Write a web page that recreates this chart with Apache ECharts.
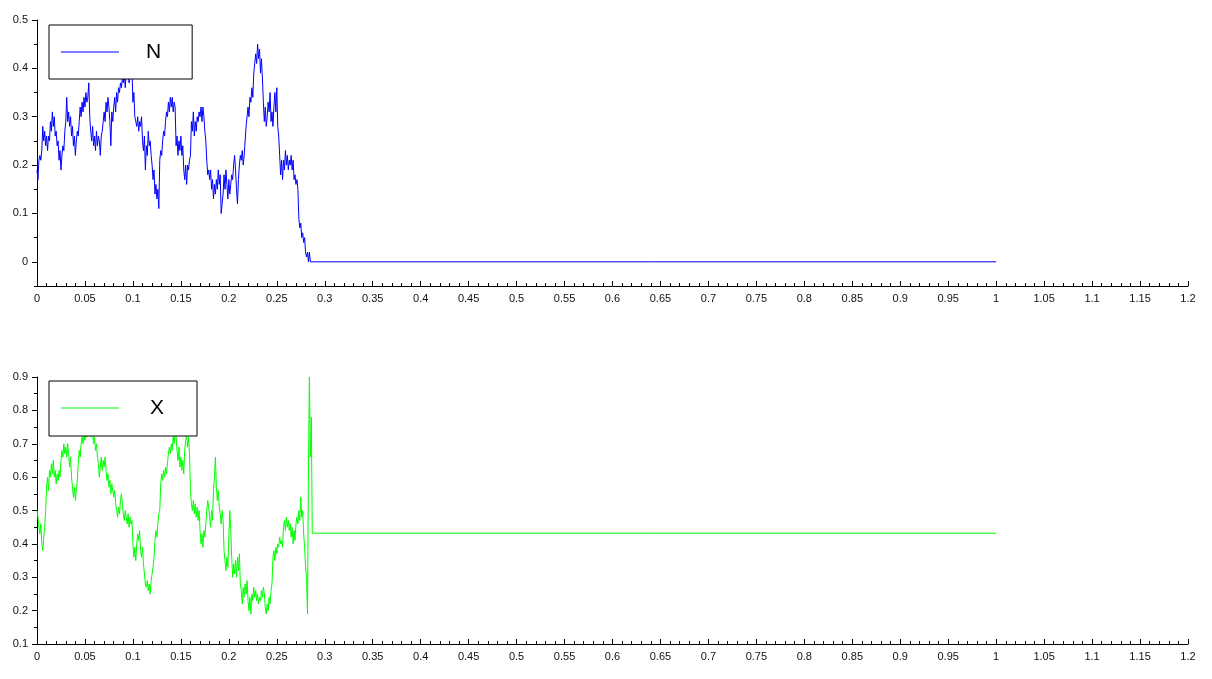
<!DOCTYPE html>
<html>
<head>
<meta charset="utf-8">
<script src="https://cdn.jsdelivr.net/npm/echarts@6/dist/echarts.min.js"></script>
<style>
html,body{margin:0;padding:0;background:#fff;}
#chart{width:1212px;height:679px;}
</style>
</head>
<body>
<div id="chart"></div>
<script>
// sampling of the recorded paths
const sampleStep = 0.001;
const endTime = 1.0;

// N path (top panel), one value per sample
const nValues = [
0.19,0.17,0.21,0.22,0.21,0.23,0.28,0.25,0.27,0.24,
0.26,0.23,0.26,0.25,0.29,0.27,0.31,0.28,0.30,0.26,
0.27,0.24,0.25,0.21,0.23,0.19,0.22,0.24,0.23,0.27,
0.29,0.34,0.29,0.31,0.28,0.30,0.26,0.28,0.24,0.26,
0.22,0.25,0.27,0.26,0.29,0.32,0.30,0.33,0.31,0.34,
0.32,0.35,0.33,0.34,0.37,0.30,0.27,0.25,0.28,0.24,
0.26,0.23,0.27,0.24,0.26,0.25,0.22,0.26,0.27,0.29,
0.31,0.29,0.33,0.31,0.34,0.32,0.29,0.24,0.31,0.29,
0.32,0.34,0.31,0.35,0.33,0.36,0.35,0.37,0.36,0.38,
0.37,0.39,0.36,0.39,0.38,0.40,0.37,0.39,0.38,0.40,
0.33,0.35,0.30,0.29,0.28,0.30,0.27,0.29,0.28,0.30,
0.25,0.23,0.26,0.19,0.24,0.22,0.27,0.24,0.25,0.22,
0.20,0.17,0.19,0.14,0.16,0.13,0.15,0.11,0.21,0.23,
0.22,0.25,0.27,0.26,0.29,0.31,0.30,0.33,0.31,0.34,
0.32,0.34,0.31,0.33,0.32,0.24,0.26,0.22,0.25,0.23,
0.26,0.22,0.24,0.19,0.17,0.20,0.16,0.20,0.19,0.21,
0.22,0.29,0.27,0.31,0.26,0.29,0.27,0.30,0.29,0.31,
0.30,0.32,0.29,0.32,0.30,0.27,0.25,0.21,0.18,0.19,
0.17,0.19,0.15,0.17,0.13,0.16,0.14,0.17,0.15,0.19,
0.16,0.18,0.10,0.12,0.14,0.18,0.15,0.19,0.16,0.13,
0.17,0.14,0.16,0.18,0.17,0.20,0.22,0.19,0.15,0.12,
0.17,0.20,0.22,0.21,0.23,0.20,0.22,0.25,0.28,0.30,
0.32,0.30,0.34,0.33,0.36,0.34,0.39,0.41,0.43,0.41,
0.45,0.42,0.44,0.39,0.42,0.38,0.33,0.29,0.32,0.28,
0.30,0.33,0.31,0.35,0.29,0.31,0.28,0.32,0.35,0.31,
0.36,0.28,0.26,0.22,0.18,0.21,0.17,0.21,0.19,0.23,
0.20,0.22,0.19,0.21,0.20,0.22,0.19,0.21,0.17,0.18,
0.16,0.17,0.15,0.09,0.07,0.08,0.05,0.06,0.04,0.05,
0.02,0.01,0.02,0.00,0.02,0.00,0.00
];
const nFinal = 0;

// X path (bottom panel), one value per sample
const xValues = [
0.50,0.48,0.45,0.43,0.46,0.40,0.38,0.42,0.45,0.50,
0.57,0.60,0.56,0.62,0.60,0.64,0.61,0.65,0.60,0.62,
0.58,0.61,0.59,0.62,0.60,0.65,0.68,0.66,0.70,0.67,
0.69,0.66,0.70,0.67,0.63,0.66,0.60,0.57,0.54,0.57,
0.53,0.56,0.59,0.64,0.68,0.66,0.70,0.72,0.70,0.73,
0.71,0.74,0.72,0.75,0.73,0.76,0.72,0.74,0.73,0.70,
0.72,0.68,0.70,0.66,0.64,0.60,0.63,0.66,0.62,0.65,
0.63,0.66,0.62,0.59,0.61,0.57,0.59,0.55,0.58,0.56,
0.54,0.56,0.52,0.50,0.48,0.51,0.49,0.53,0.55,0.52,
0.49,0.47,0.50,0.48,0.46,0.49,0.45,0.48,0.46,0.47,
0.40,0.36,0.39,0.35,0.40,0.43,0.41,0.44,0.38,0.36,
0.39,0.34,0.31,0.28,0.27,0.29,0.26,0.28,0.25,0.29,
0.31,0.33,0.36,0.41,0.44,0.42,0.46,0.49,0.50,0.58,
0.61,0.59,0.62,0.60,0.63,0.61,0.64,0.67,0.69,0.67,
0.70,0.68,0.72,0.70,0.74,0.72,0.68,0.65,0.69,0.63,
0.66,0.62,0.65,0.61,0.68,0.71,0.73,0.69,0.72,0.67,
0.56,0.52,0.50,0.53,0.49,0.52,0.48,0.51,0.47,0.50,
0.44,0.40,0.43,0.39,0.44,0.42,0.46,0.50,0.53,0.51,
0.48,0.45,0.50,0.47,0.56,0.60,0.66,0.57,0.53,0.56,
0.51,0.49,0.46,0.50,0.47,0.38,0.35,0.32,0.36,0.33,
0.42,0.50,0.44,0.36,0.30,0.34,0.31,0.35,0.30,0.36,
0.32,0.37,0.28,0.26,0.22,0.27,0.24,0.28,0.25,0.29,
0.23,0.20,0.24,0.19,0.25,0.23,0.27,0.24,0.26,0.23,
0.25,0.22,0.24,0.23,0.26,0.24,0.27,0.25,0.21,0.19,
0.22,0.20,0.24,0.22,0.26,0.28,0.36,0.38,0.35,0.39,
0.37,0.40,0.39,0.42,0.40,0.41,0.39,0.45,0.47,0.44,
0.48,0.45,0.47,0.44,0.46,0.42,0.45,0.40,0.44,0.41,
0.46,0.48,0.46,0.50,0.47,0.54,0.48,0.50,0.43,0.39,
0.33,0.30,0.19,0.62,0.90,0.66,0.78,0.432
];
const xFinal = 0.432;

// axis ticks
const xMin = 0, xMax = 1.2, xStep = 0.05;
const topYLabels = [0, 0.1, 0.2, 0.3, 0.4, 0.5];
const topYMinor = [-0.05, 0.05, 0.15, 0.25, 0.35, 0.45];
const topYMin = -0.05, topYMax = 0.5;
const botYMin = 0.1, botYMax = 0.9, botYStep = 0.1;

const nData = nValues.map((v, i) => [i * sampleStep, v]).concat([[endTime, nFinal]]);
const xData = xValues.map((v, i) => [i * sampleStep, v]).concat([[endTime, xFinal]]);

const FONT = 'Liberation Sans';
const labelStyle = { color: '#111', fontSize: 11, fontFamily: FONT };

function makeXAxis(gridIndex) {
  return {
    type: 'value', gridIndex, min: xMin, max: xMax, interval: xStep,
    axisLine: { show: true, onZero: false, lineStyle: { color: '#000', width: 1 } },
    axisTick: { show: true, inside: true, length: 5, lineStyle: { color: '#000' } },
    minorTick: { show: true, splitNumber: 5, length: 3, lineStyle: { color: '#000' } },
    splitLine: { show: false }, minorSplitLine: { show: false },
    axisLabel: Object.assign({ margin: 7, showMinLabel: true, showMaxLabel: true, hideOverlap: false }, labelStyle)
  };
}

function makeLegend(name, top, color, pad, textPadLeft) {
  return {
    data: [{ name: name, icon: 'rect', itemStyle: { color: color } }],
    left: 49, top: top, orient: 'horizontal',
    backgroundColor: '#fff', borderColor: '#000', borderWidth: 1, borderRadius: 0,
    padding: pad, itemWidth: 58, itemHeight: 1,
    textStyle: { fontSize: 21, fontFamily: FONT, color: '#000', padding: [0, 0, 0, textPadLeft], lineHeight: 22 },
    selectedMode: false
  };
}

const chart = echarts.init(document.getElementById('chart'), null, { renderer: 'canvas' });
chart.setOption({
  animation: false,
  backgroundColor: '#fff',
  grid: [
    { left: 37, right: 24, top: 20, height: 266, outerBoundsMode: 'none' },
    { left: 37, right: 24, top: 377, height: 267, outerBoundsMode: 'none' }
  ],
  xAxis: [makeXAxis(0), makeXAxis(1)],
  yAxis: [
    {
      type: 'value', gridIndex: 0, position: 'left', min: topYMin, max: topYMax,
      axisLine: { show: true, onZero: false, lineStyle: { color: '#000', width: 1 } },
      axisTick: { show: true, inside: false, length: 5, customValues: topYLabels, lineStyle: { color: '#000' } },
      axisLabel: Object.assign({ margin: 9, customValues: topYLabels }, labelStyle),
      splitLine: { show: false }
    },
    {
      type: 'value', gridIndex: 0, position: 'left', min: topYMin, max: topYMax,
      axisLine: { show: false },
      axisTick: { show: true, inside: false, length: 3, customValues: topYMinor, lineStyle: { color: '#000' } },
      axisLabel: { show: false },
      splitLine: { show: false }
    },
    {
      type: 'value', gridIndex: 1, position: 'left', min: botYMin, max: botYMax, interval: botYStep,
      axisLine: { show: true, onZero: false, lineStyle: { color: '#000', width: 1 } },
      axisTick: { show: true, inside: false, length: 5, lineStyle: { color: '#000' } },
      minorTick: { show: true, splitNumber: 2, length: 3, lineStyle: { color: '#000' } },
      axisLabel: Object.assign({ margin: 9 }, labelStyle),
      splitLine: { show: false }, minorSplitLine: { show: false }
    }
  ],
  legend: [
    makeLegend('N', 25, '#0000ff', [16, 31, 16, 12], 22),
    makeLegend('X', 381, '#00ff00', [16, 33, 17, 12], 26)
  ],
  series: [
    {
      name: 'N', type: 'line', xAxisIndex: 0, yAxisIndex: 0, data: nData,
      showSymbol: false, symbol: 'none', color: '#0000ff',
      lineStyle: { color: '#0000ff', width: 1 }, clip: true
    },
    {
      name: 'X', type: 'line', xAxisIndex: 1, yAxisIndex: 2, data: xData,
      showSymbol: false, symbol: 'none', color: '#00ff00',
      lineStyle: { color: '#00ff00', width: 1 }, clip: true
    }
  ]
});
</script>
</body>
</html>
